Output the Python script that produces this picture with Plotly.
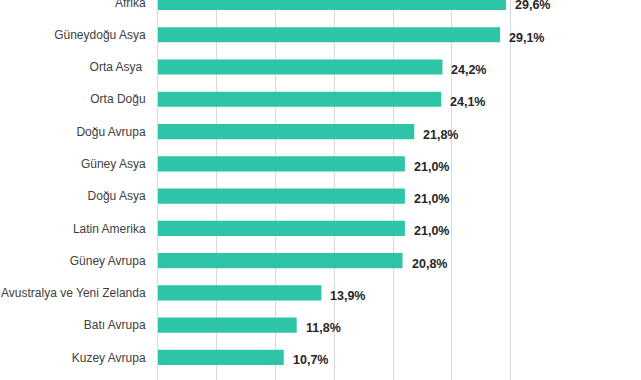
import plotly.graph_objects as go

regions = ["Afrika", "Güneydoğu Asya", "Orta Asya ", "Orta Doğu", "Doğu Avrupa",
           "Güney Asya", "Doğu Asya", "Latin Amerika", "Güney Avrupa",
           "Avustralya ve Yeni Zelanda", "Batı Avrupa", "Kuzey Avrupa"]
values = [29.6, 29.1, 24.2, 24.1, 21.8, 21.0, 21.0, 21.0, 20.8, 13.9, 11.8, 10.7]
value_labels = [f"{v:.1f}%".replace(".", ",") for v in values]
positions = list(range(len(regions)))

fig = go.Figure(go.Bar(
    x=values,
    y=positions,
    orientation="h",
    width=0.47,
    marker=dict(color="#2EC4A7", line=dict(width=0)),
    hoverinfo="skip",
))

for v, p, t in zip(values, positions, value_labels):
    fig.add_annotation(x=v, y=p, text=t, showarrow=False, xanchor="left", yanchor="middle",
                       xshift=7, yshift=-3,
                       font=dict(family="Liberation Sans, Arial, sans-serif", size=12.5,
                                 color="#262626", weight="bold"))

fig.update_layout(
    width=641, height=380,
    margin=dict(l=158, r=71, t=0, b=0, autoexpand=False),
    plot_bgcolor="white", paper_bgcolor="white",
    showlegend=False,
    xaxis=dict(range=[0, 35.05], dtick=5, showgrid=True, gridcolor="#D9D9D9", gridwidth=1,
               zeroline=False, showticklabels=False, showline=False, automargin=False),
    yaxis=dict(range=[11.70, -0.077], tickvals=positions, ticktext=regions,
               showgrid=False, zeroline=False, showline=True, linecolor="#D9D9D9", linewidth=1,
               ticks="", ticklabelstandoff=9, ticklabeloverflow="allow", automargin=False,
               tickfont=dict(family="Liberation Sans, Arial, sans-serif", size=12, color="#404040")),
)

fig.write_html("out.html", config={"displayModeBar": False},
               post_script="document.body.style.margin='0';document.body.style.overflow='hidden';")
